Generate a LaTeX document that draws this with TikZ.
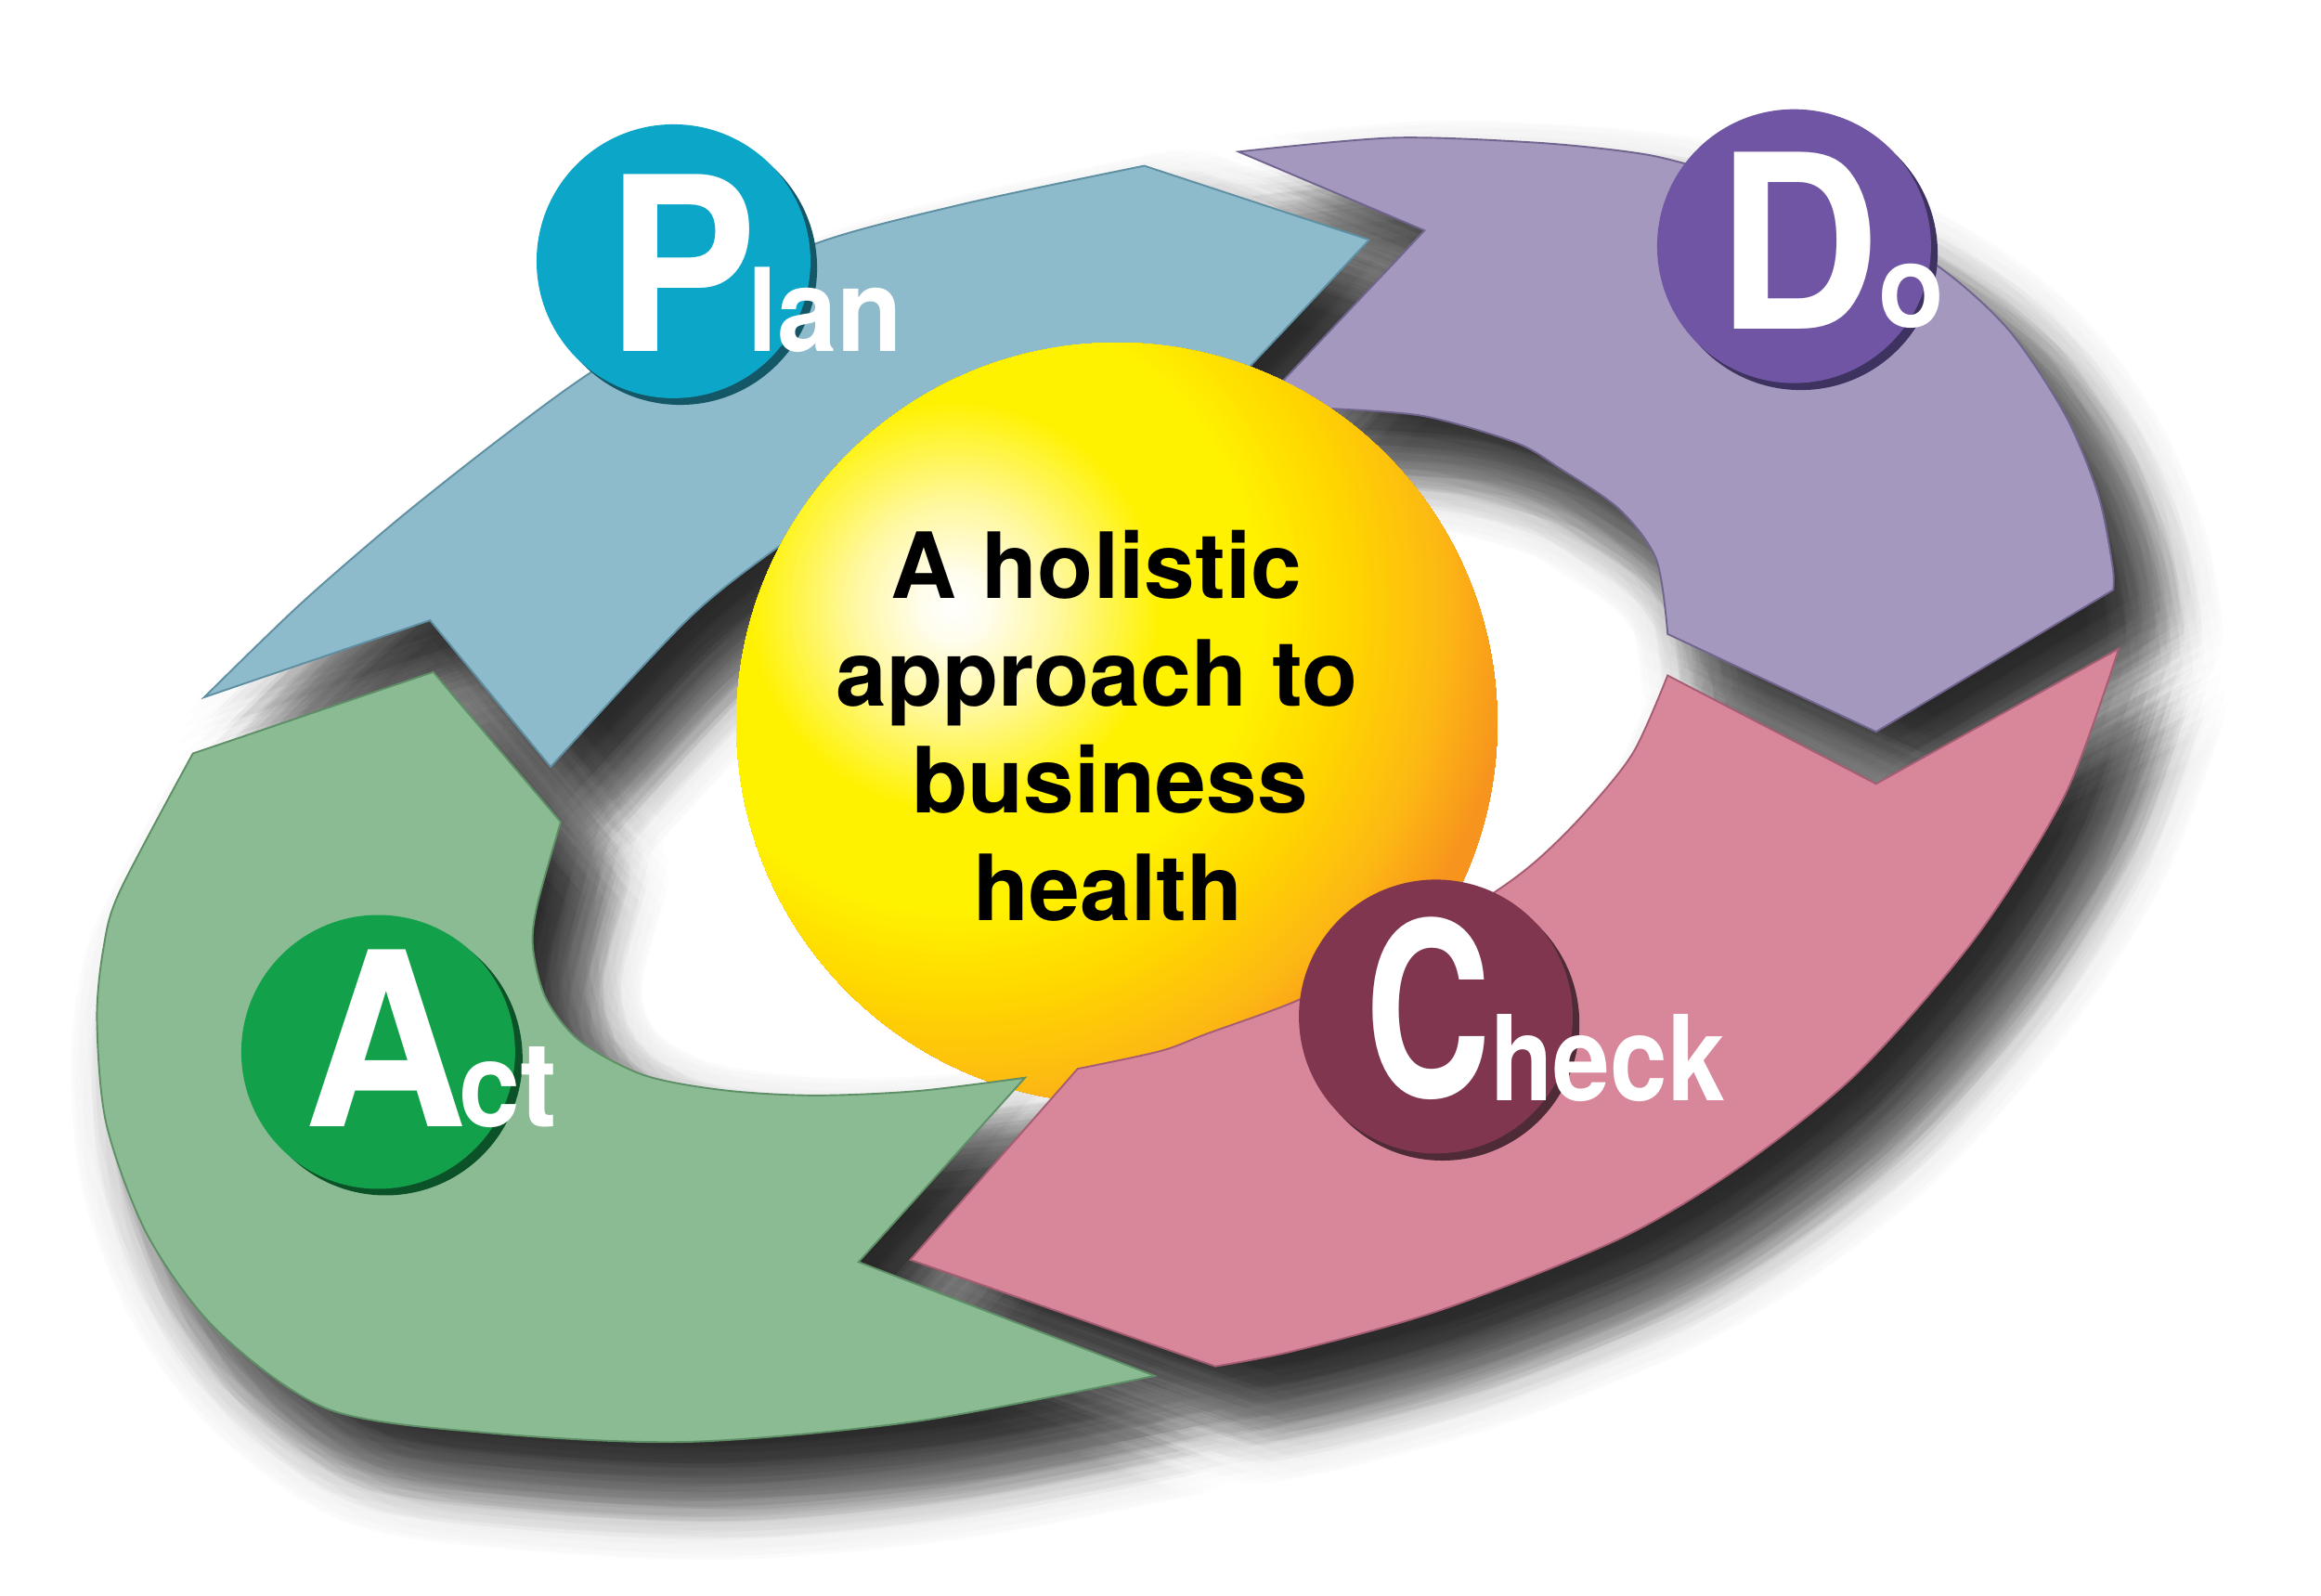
\documentclass[tikz,border=0pt]{standalone}
\usepackage{fontspec}
\setmainfont{TeX Gyre Heros}
\newfontfamily\bigfont{TeX Gyre Heros}[FakeStretch=0.93]
\newfontfamily\cfont{TeX Gyre Heros}[FakeStretch=0.72]
\newfontfamily\smallfont{TeX Gyre Heros}[FakeStretch=0.93]
\newfontfamily\kfont{TeX Gyre Heros}[FakeStretch=0.87]
\newcommand\bigsz{\bigfont\bfseries\fontsize{164}{164}\selectfont}
\newcommand\csz{\cfont\bfseries\fontsize{164}{164}\selectfont}
\newcommand\smsz{\smallfont\bfseries\fontsize{78}{78}\selectfont}
\newcommand\ksz{\kfont\bfseries\fontsize{80}{80}\selectfont}
\newcommand\tsz{\smallfont\bfseries\fontsize{80}{80}\selectfont}

\definecolor{arBlue}{HTML}{8EBBCB}
\definecolor{arBlueE}{HTML}{5F8FA2}
\definecolor{arPurple}{HTML}{A498BE}
\definecolor{arPurpleE}{HTML}{71658F}
\definecolor{arPink}{HTML}{D78799}
\definecolor{arPinkE}{HTML}{A65D74}
\definecolor{arGreen}{HTML}{8ABB92}
\definecolor{arGreenE}{HTML}{5E8F66}
\definecolor{cPlan}{HTML}{0BA6C8}
\definecolor{cPlanD}{HTML}{145868}
\definecolor{cDo}{HTML}{6F55A3}
\definecolor{cDoD}{HTML}{3D3260}
\definecolor{cCheck}{HTML}{80364F}
\definecolor{cCheckD}{HTML}{4E2B37}
\definecolor{cAct}{HTML}{12A14A}
\definecolor{cActD}{HTML}{0B5228}
\definecolor{yA}{HTML}{FFFDEB}
\definecolor{yB}{HTML}{FFF8A0}
\definecolor{yC}{HTML}{FFF200}
\definecolor{yD}{HTML}{FFD500}
\definecolor{yE}{HTML}{FDB913}
\definecolor{yF}{HTML}{F7941D}

% arrow outlines (picture units: 1pt, y downwards)
\def\pBlue{plot[smooth] coordinates {(138,471) (203,408) (270,350) (337,297) (397,253) (475,205) (550,165) (650,138) (773,112)}
  -- (925,162) -- (828,265)
  -- plot[smooth] coordinates {(828,265) (700,282) (600,318) (525,370) (464,419) (372,518)}
  -- (290.5,419) -- cycle}
\def\pPurple{plot[smooth] coordinates {(836.7,102.5) (940.8,93.1) (1036.7,96.3) (1100.8,102.7) (1139,110.7) (1240,140) (1308.8,179.5) (1356.8,222.7) (1395.2,280.3) (1417.6,334.7) (1427.2,382.7) (1427.6,398.5)}
  -- (1267.4,494.3) -- (1126.6,428.3)
  -- plot[smooth] coordinates {(1126.6,428.3) (1119,378) (1094,344) (1054,316.5) (1024,299) (961.5,281) (897,276)}
  -- (850,275) -- (962.3,155.7) -- cycle}
\def\pPink{plot[smooth] coordinates {(1431.3,438.3) (1395.3,536.3) (1335.4,632.3) (1255.3,724.3) (1175.4,788.3) (1095.3,836.3) (975.4,884.3) (875.4,912.3) (821,923)}
  -- (615,851) -- (728,722)
  -- plot[smooth] coordinates {(728,722) (784,710) (815.4,698.3) (875.4,676.3) (940,645) (1007.3,604.3) (1039.3,580.3) (1071.4,548.3) (1103.4,508.3) (1126.6,456.3)}
  -- (1267.4,529.5) -- cycle}
\def\pGreen{plot[smooth] coordinates {(780,929.4) (620,960) (465,974) (330,968) (222,952) (147,899) (100,835) (72,760) (65.5,689) (70,640) (81,602) (130.3,509)}
  -- (292.7,454) -- (378.8,555.3)
  -- plot[smooth] coordinates {(378.8,555.3) (363,611) (360,640) (368.8,674.5) (391.8,703.3) (435,726.3) (489,736.5) (550,740) (620,737) (692.5,728)}
  -- (580,852.5) -- cycle}

\begin{document}
\begin{tikzpicture}[x=1pt,y=-1pt,
  arrowband/.style={line width=1.2pt, line join=miter},
  disk/.style={circle, minimum size=185pt, inner sep=0pt, outer sep=0pt},
  lbl/.style={anchor=base west, inner sep=0pt, outer sep=0pt, text=white},
  ctext/.style={anchor=base, inner sep=0pt, font=\bfseries\fontsize{61.7}{70}\selectfont, text=black}]

\useasboundingbox (0,0) rectangle (1568,1078);
\fill[white] (0,0) rectangle (1568,1078);

% soft drop shadows: faint shifted copies on rings (a sampled gaussian blur)
\foreach \r/\n/\ph/\op in {0/1/0/0.0387, 10/10/0/0.0269, 20/16/11/0.0255, 32/22/5/0.0161, 46/28/3/0.00675}{
  \foreach \j in {1,...,\n}{
    \pgfmathsetmacro\dx{28+\r*cos(\ph+360*\j/\n)}
    \pgfmathsetmacro\dy{34+\r*sin(\ph+360*\j/\n)}
    \begin{scope}[transparency group, opacity=\op, shift={(\dx,\dy)}]
      \fill[black] \pBlue;
      \fill[black] \pPurple;
      \fill[black] \pPink;
      \fill[black] \pGreen;
    \end{scope}
  }
}

% arrows under the ball
\filldraw[arrowband, fill=arBlue, draw=arBlueE] \pBlue;
\filldraw[arrowband, fill=arPurple, draw=arPurpleE] \pPurple;

% central ball: concentric rings round the highlight, clipped to the ball
\coordinate (ballC) at (754.5,488.5);
\coordinate (hiC) at (645,410);
\begin{scope}
  \clip (ballC) circle (257pt);
  \foreach \ra/\rb/\ca/\cb in {380/460/yF/yF, 330/380/yE/yF, 270/330/yD/yE, 205/270/yC/yD, 140/205/yC/yC, 70/140/yB/yC, 25/70/yA/yB, 0/25/white/yA}{
    \pgfmathtruncatemacro\nst{ceil((\rb-\ra)/3)}
    \foreach \k in {1,...,\nst}{
      \pgfmathsetmacro\rr{\rb-(\k-1)*(\rb-\ra)/\nst}
      \pgfmathtruncatemacro\tt{100*(\rr-\ra)/(\rb-\ra)}
      \fill[\cb!\tt!\ca] (hiC) circle (\rr pt);
    }
  }
\end{scope}

% arrows over the ball
\filldraw[arrowband, fill=arGreen, draw=arGreenE] \pGreen;
\filldraw[arrowband, fill=arPink, draw=arPinkE] \pPink;

% central text
\node[ctext] (t1) at (740.6,404) {A holistic};
\node[ctext] (t2) at (741,476.7) {approach to};
\node[ctext] (t3) at (750,549) {business};
\node[ctext] (t4) at (748.6,622) {health};

% letter disks
\node[disk, fill=cPlanD] (planS) at (459.5,181) {};
\node[disk, fill=cPlan] (planC) at (455,176.5) {};
\node[disk, fill=cDoD] (doS) at (1216.5,171) {};
\node[disk, fill=cDo] (doC) at (1212,166.3) {};
\node[disk, fill=cCheckD] (checkS) at (974.5,691.5) {};
\node[disk, fill=cCheck] (checkC) at (970,686.7) {};
\node[disk, fill=cActD] (actS) at (260.5,715) {};
\node[disk, fill=cAct] (actC) at (255.5,710.6) {};

% labels
\node[lbl] (planT) at (409.9,237.4) {{\bigsz P}\kern-6.7pt{\smsz lan}};
\node[lbl] (doT) at (1160,222.1) {{\bigsz D}\kern-1pt{\smsz\raisebox{1.1pt}{o}}};
\node[lbl] (checkT) at (922.2,741.2) {{\csz C}\kern-0.7pt{\ksz\raisebox{-2.3pt}{heck}}};
\node[lbl] (actT) at (205.1,760.9) {{\bigsz A}\kern-5pt{\tsz ct}};
\end{tikzpicture}
\end{document}
